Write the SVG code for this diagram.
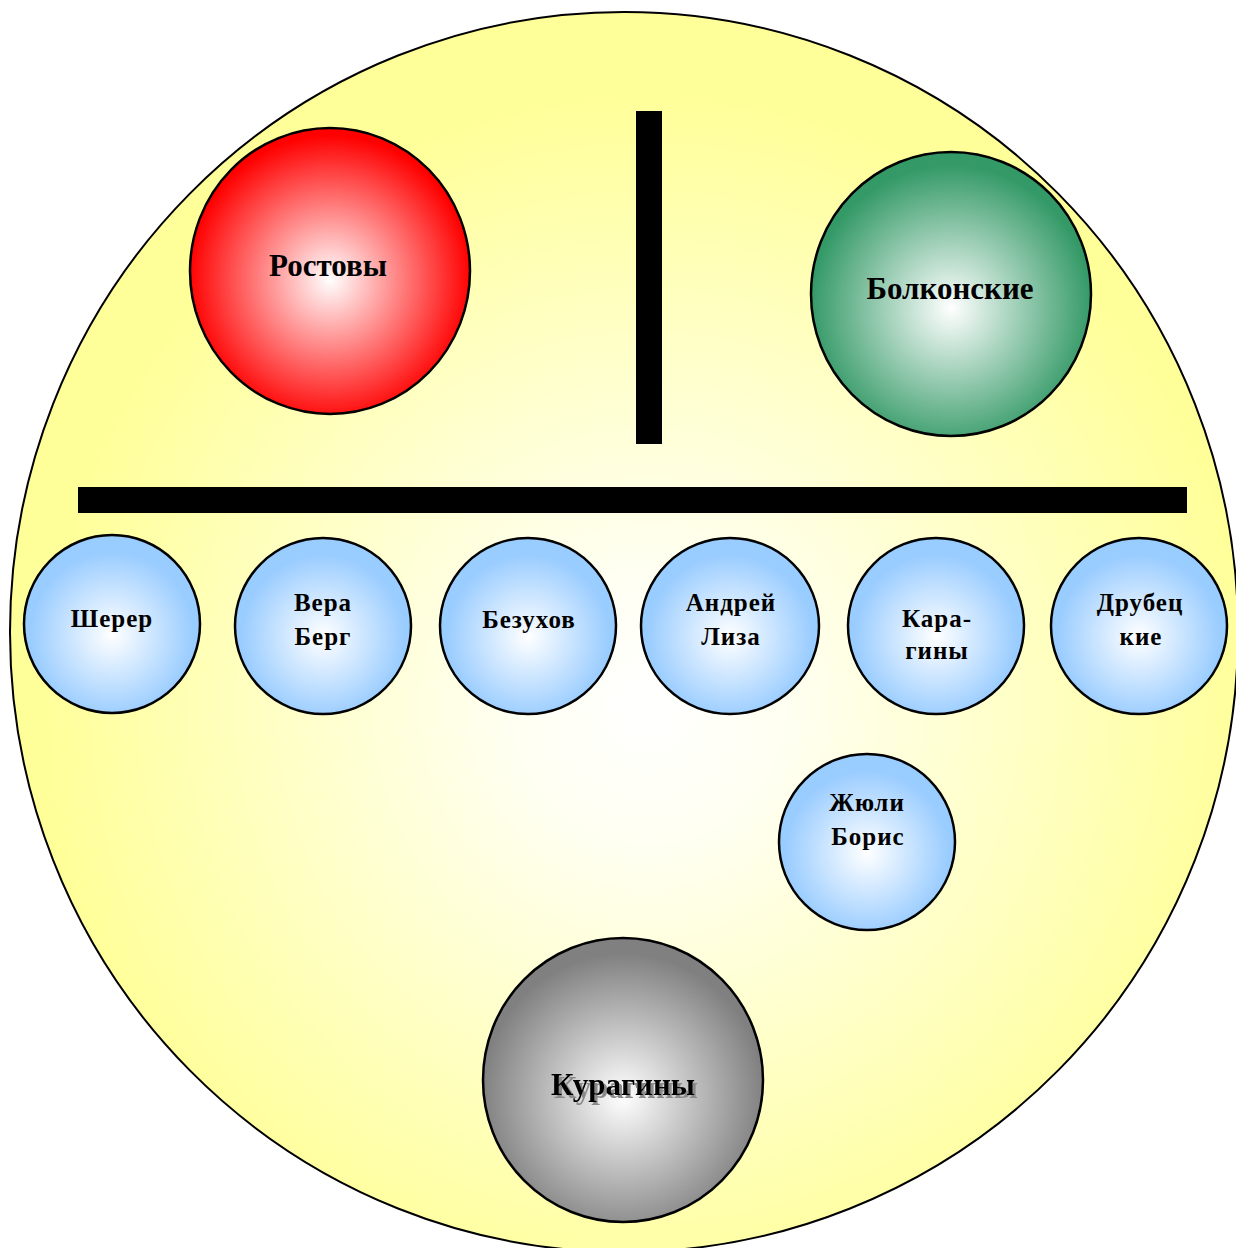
<svg xmlns="http://www.w3.org/2000/svg" width="1236" height="1248" viewBox="0 0 1236 1248">
<defs>
<radialGradient id="gBig" cx="0.52" cy="0.56" r="0.55">
<stop offset="0" stop-color="#FFFFFF"/>
<stop offset="0.2" stop-color="#FFFFF2"/>
<stop offset="0.9" stop-color="#FFFF99"/>
<stop offset="1" stop-color="#FFFF99"/>
</radialGradient>
<radialGradient id="gRed" cx="0.5" cy="0.53" r="0.55">
<stop offset="0" stop-color="#FFFFFF"/>
<stop offset="0.92" stop-color="#FF0000"/>
<stop offset="1" stop-color="#FF0000"/>
</radialGradient>
<radialGradient id="gGreen" cx="0.5" cy="0.55" r="0.55">
<stop offset="0" stop-color="#FFFFFF"/>
<stop offset="0.92" stop-color="#339966"/>
<stop offset="1" stop-color="#339966"/>
</radialGradient>
<radialGradient id="gBlue" cx="0.5" cy="0.56" r="0.55">
<stop offset="0" stop-color="#FFFFFF"/>
<stop offset="0.85" stop-color="#99CCFF"/>
<stop offset="1" stop-color="#99CCFF"/>
</radialGradient>
<radialGradient id="gGray" cx="0.5" cy="0.56" r="0.55">
<stop offset="0" stop-color="#FFFFFF"/>
<stop offset="0.92" stop-color="#808080"/>
<stop offset="1" stop-color="#808080"/>
</radialGradient>
<filter id="shadow" x="-10%" y="-30%" width="120%" height="160%">
<feDropShadow dx="3" dy="3" stdDeviation="0.6" flood-color="#8a8a8a" flood-opacity="1"/>
</filter>
</defs>
<style>
.node{stroke:#000;stroke-width:2.5}
.big{font-family:"Liberation Serif","Times New Roman",serif;font-weight:bold;font-size:31px;fill:#000;text-anchor:middle}
.sm{font-family:"Liberation Serif","Times New Roman",serif;font-weight:bold;font-size:25px;fill:#000;text-anchor:middle;letter-spacing:1px}
.bar{fill:#000}
</style>
<rect x="0" y="0" width="1236" height="1248" fill="#FFFFFF"/>
<g id="background">
<ellipse cx="624" cy="632" rx="614" ry="620" fill="url(#gBig)" stroke="#000" stroke-width="2"/>
</g>
<g id="connectors">
<rect class="bar" x="636" y="111" width="26" height="333"/>
<rect class="bar" x="78" y="487" width="1109" height="26"/>
</g>
<g id="rostovy">
<ellipse class="node" cx="330" cy="271" rx="140" ry="143" fill="url(#gRed)"/>
<text class="big" x="328" y="276">Ростовы</text>
</g>
<g id="bolkonskie">
<ellipse class="node" cx="951" cy="294" rx="140" ry="142" fill="url(#gGreen)"/>
<text class="big" x="950" y="299">Болконские</text>
</g>
<g id="sherer">
<ellipse class="node" cx="112" cy="624" rx="88" ry="89" fill="url(#gBlue)"/>
<text class="sm" x="112" y="627">Шерер</text>
</g>
<g id="vera-berg">
<ellipse class="node" cx="323" cy="626" rx="88" ry="88" fill="url(#gBlue)"/>
<text class="sm" x="323" y="611">Вера</text>
<text class="sm" x="323" y="645">Берг</text>
</g>
<g id="bezukhov">
<ellipse class="node" cx="528" cy="626" rx="88" ry="88" fill="url(#gBlue)"/>
<text class="sm" x="529" y="628">Безухов</text>
</g>
<g id="andrey-liza">
<ellipse class="node" cx="730" cy="626" rx="89" ry="88" fill="url(#gBlue)"/>
<text class="sm" x="731" y="611">Андрей</text>
<text class="sm" x="731" y="645">Лиза</text>
</g>
<g id="karaginy">
<ellipse class="node" cx="936" cy="626" rx="88" ry="88" fill="url(#gBlue)"/>
<text class="sm" x="937" y="627">Кара-</text>
<text class="sm" x="937" y="659">гины</text>
</g>
<g id="drubetskie">
<ellipse class="node" cx="1139" cy="626" rx="88" ry="88" fill="url(#gBlue)"/>
<text class="sm" x="1140" y="611">Друбец</text>
<text class="sm" x="1141" y="645">кие</text>
</g>
<g id="yuli-boris">
<ellipse class="node" cx="867" cy="842" rx="88" ry="88" fill="url(#gBlue)"/>
<text class="sm" x="867" y="811">Жюли</text>
<text class="sm" x="868" y="845">Борис</text>
</g>
<g id="kuraginy">
<ellipse class="node" cx="623" cy="1080" rx="140" ry="142" fill="url(#gGray)"/>
<text class="big" x="623" y="1095" filter="url(#shadow)">Курагины</text>
</g>
</svg>
